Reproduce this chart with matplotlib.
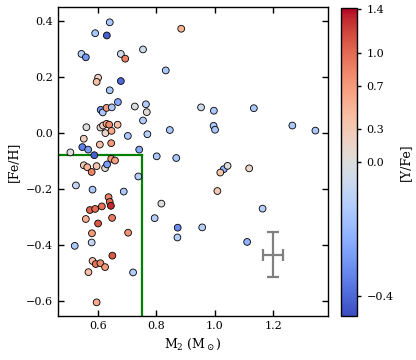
import matplotlib
matplotlib.use("Agg")
import matplotlib.pyplot as plt
import numpy as np
from matplotlib.colors import TwoSlopeNorm

plt.rcParams['font.family'] = ['DejaVu Serif']
plt.rcParams['mathtext.fontset'] = 'dejavuserif'

# Companion mass M2 (Msun)
m2 = [0.640, 0.590, 0.630, 0.543, 0.558, 0.678, 0.693, 0.754, 0.885, 0.600,
      0.595, 0.678, 0.832, 0.640, 0.668, 0.609, 0.616, 0.629, 0.647, 0.726,
      0.764, 0.767, 0.754, 0.769, 0.702, 0.846, 0.953, 0.997, 1.134, 0.996,
      1.001, 1.266, 1.345, 0.801, 0.868, 1.031, 1.044, 1.019, 1.118, 1.009,
      0.817, 1.164, 0.794, 0.873, 0.957, 0.872, 1.111, 0.560, 0.608, 0.617,
      0.625, 0.629, 0.638, 0.646, 0.667, 0.551, 0.606, 0.645, 0.546, 0.566,
      0.505, 0.587, 0.741, 0.645, 0.658, 0.551, 0.563, 0.578, 0.595, 0.624,
      0.631, 0.738, 0.524, 0.581, 0.688, 0.636, 0.640, 0.644, 0.572, 0.590,
      0.613, 0.558, 0.648, 0.600, 0.579, 0.703, 0.520, 0.578, 0.649, 0.581,
      0.592, 0.608, 0.624, 0.567, 0.720, 0.595]

# Metallicity [Fe/H]
feh = [0.395, 0.356, 0.348, 0.282, 0.270, 0.282, 0.265, 0.298, 0.372, 0.197,
       0.182, 0.185, 0.223, 0.152, 0.110, 0.082, 0.073, 0.089, 0.091, 0.094,
       0.102, 0.074, 0.044, -0.005, -0.011, 0.010, 0.091, 0.079, 0.088, 0.025,
       0.011, 0.026, 0.008, -0.084, -0.090, -0.130, -0.118, -0.142, -0.127, -0.208,
       -0.253, -0.271, -0.305, -0.339, -0.338, -0.374, -0.390, 0.020, 0.019, 0.026,
       -0.001, 0.032, 0.029, 0.007, 0.029, -0.021, -0.042, -0.037, -0.051, -0.060,
       -0.070, -0.080, -0.060, -0.093, -0.099, -0.116, -0.123, -0.140, -0.119, -0.126,
       -0.113, -0.156, -0.188, -0.203, -0.210, -0.230, -0.247, -0.261, -0.276, -0.272,
       -0.263, -0.308, -0.304, -0.324, -0.359, -0.357, -0.404, -0.392, -0.439, -0.458,
       -0.469, -0.466, -0.480, -0.498, -0.499, -0.606]

# [Y/Fe] abundance (colour)
yfe = [-0.15, -0.15, -0.42, -0.12, -0.30, -0.05, 0.85, -0.05, 0.50, 0.20,
       0.40, -0.40, -0.15, -0.15, -0.25, -0.30, -0.15, 0.70, -0.15, -0.02,
       -0.13, 0.05, -0.13, -0.12, -0.15, -0.15, -0.05, -0.15, -0.15, -0.15,
       -0.15, -0.15, -0.15, -0.15, -0.15, -0.22, 0.00, 0.35, 0.15, 0.30,
       0.00, -0.12, -0.12, -0.32, -0.12, -0.12, -0.22, 0.00, 0.10, 0.25,
       0.15, 0.60, 0.80, 0.60, 0.40, 0.25, 0.40, 0.70, -0.35, -0.28,
       0.00, -0.42, -0.25, 0.70, 0.65, 0.30, 0.50, 0.85, 0.35, 0.10,
       -0.28, -0.13, -0.08, -0.15, -0.15, 0.85, 1.00, 1.30, 1.05, 1.00,
       0.95, 0.55, 0.90, 1.10, 0.70, 0.75, -0.15, -0.08, 1.10, 0.40,
       0.95, 0.80, 0.70, 0.40, -0.13, 0.60]

cbar_ticks = [-0.4, 0.0, 0.3, 0.7, 1.0, 1.4]

fig = plt.figure(figsize=(4.16, 3.60), dpi=100)
ax = fig.add_axes([0.139, 0.122, 0.650, 0.858])
cax = fig.add_axes([0.820, 0.122, 0.039, 0.855])

norm = TwoSlopeNorm(vmin=-0.46, vcenter=0.0, vmax=1.41)
sc = ax.scatter(m2, feh, c=yfe, cmap='coolwarm', norm=norm, s=24,
                edgecolors='black', linewidths=0.6, zorder=3)

# selection box
ax.plot([0.40, 0.75], [-0.08, -0.08], color='green', lw=1.6, zorder=2)
ax.plot([0.75, 0.75], [-0.08, -0.70], color='green', lw=1.6, zorder=2)

# typical error bar
ax.errorbar([1.2], [-0.435], xerr=[0.033], yerr=[0.08], color='gray',
            lw=1.6, capsize=4, capthick=1.6, zorder=2)

ax.set_xlim(0.462, 1.389)
ax.set_ylim(-0.655, 0.449)
ax.set_xticks([0.6, 0.8, 1.0, 1.2])
ax.set_yticks([-0.6, -0.4, -0.2, 0.0, 0.2, 0.4])
ax.tick_params(direction='in', top=True, right=True, length=4, width=1.0,
               labelsize=8)
for sp in ax.spines.values():
    sp.set_linewidth(1.0)
ax.set_xlabel(r'M$_2$ (M$_\odot$)', fontsize=9)
ax.set_ylabel('[Fe/H]', fontsize=9)

cb = fig.colorbar(sc, cax=cax)
cb.set_ticks(cbar_ticks)
cb.ax.tick_params(labelsize=8, length=3, width=1.0)
cb.outline.set_linewidth(1.0)
cb.set_label('[Y/Fe]', fontsize=9)

fig.savefig('out.png', dpi=100)
